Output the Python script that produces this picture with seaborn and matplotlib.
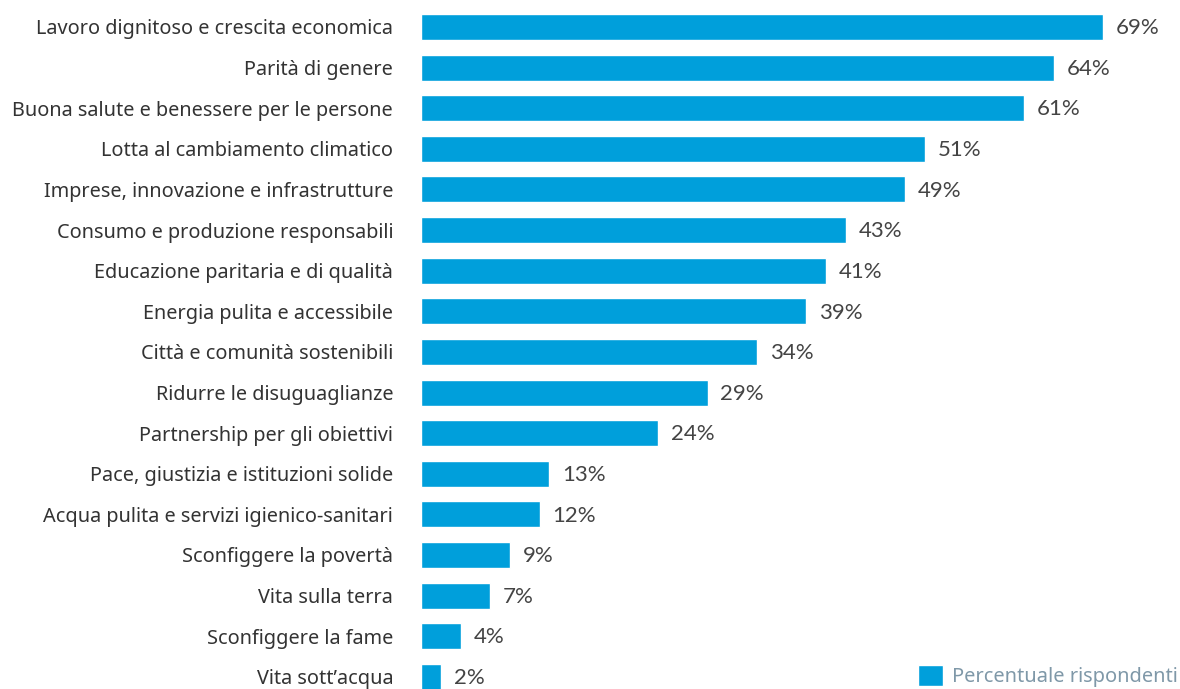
import matplotlib
matplotlib.use("Agg")
import matplotlib.pyplot as plt
import seaborn as sns
import pandas as pd

categories = [
    "Lavoro dignitoso e crescita economica",
    "Parità di genere",
    "Buona salute e benessere per le persone",
    "Lotta al cambiamento climatico",
    "Imprese, innovazione e infrastrutture",
    "Consumo e produzione responsabili",
    "Educazione paritaria e di qualità",
    "Energia pulita e accessibile",
    "Città e comunità sostenibili",
    "Ridurre le disuguaglianze",
    "Partnership per gli obiettivi",
    "Pace, giustizia e istituzioni solide",
    "Acqua pulita e servizi igienico-sanitari",
    "Sconfiggere la povertà",
    "Vita sulla terra",
    "Sconfiggere la fame",
    "Vita sott\u2019acqua",
]
values = [69, 64, 61, 51, 49, 43, 41, 39, 34, 29, 24, 13, 12, 9, 7, 4, 2]
series_name = "Percentuale rispondenti"

df = pd.DataFrame({"categoria": categories, "valore": values})

sns.set_theme(style="white")
plt.rcParams["font.family"] = ["Noto Sans", "DejaVu Sans"]

BLUE = "#009fdb"

fig = plt.figure(figsize=(11.8, 6.89), dpi=100)
ax = fig.add_axes([421 / 1180, 0.0, (1180 - 421) / 1180, 0.9903])

sns.barplot(data=df, x="valore", y="categoria", color=BLUE, saturation=1,
            width=0.64, label=series_name, ax=ax)

ax.set_xlim(0, 76.8)
ax.set_ylim(16.3, -0.5)
ax.set_xlabel("")
ax.set_ylabel("")
ax.set_xticks([])
ax.tick_params(axis="y", length=0, pad=20, labelsize=14.3, labelcolor="#333333")
for s in ax.spines.values():
    s.set_visible(False)

for i, v in enumerate(values):
    ax.text(v + 1.3, i + 0.03, f"{v}%", va="center", ha="left",
            fontsize=16, color="#444444", family=["Lato", "DejaVu Sans"])

leg = ax.legend(loc="lower right", bbox_to_anchor=(1.0, 0.0),
                bbox_transform=fig.transFigure, frameon=False,
                fontsize=14.4, handlelength=1.25, handleheight=1.2,
                handletextpad=0.45, borderaxespad=0.05, borderpad=0.05)
for t in leg.get_texts():
    t.set_color("#7f98a8")

fig.savefig("out.png", dpi=100)
